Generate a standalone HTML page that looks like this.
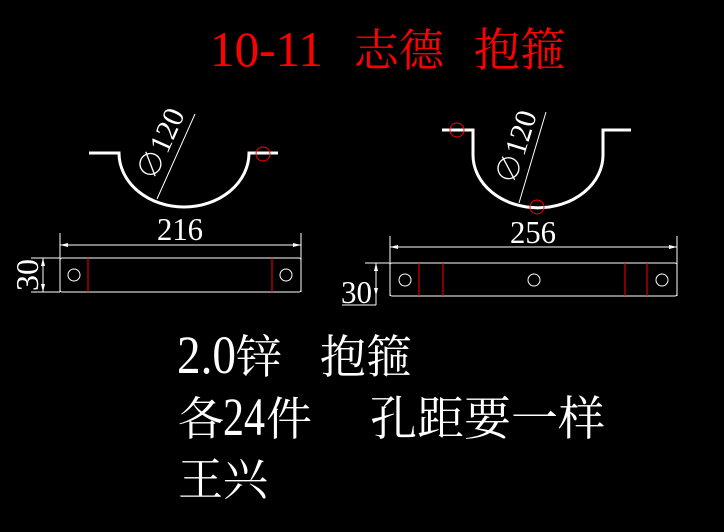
<!DOCTYPE html>
<html><head><meta charset="utf-8"><style>
html,body{margin:0;padding:0;background:#000;width:724px;height:532px;overflow:hidden}
svg{display:block}
.t{font-family:"Liberation Serif","Noto Serif CJK SC",serif}
</style></head><body>
<svg width="724" height="532" viewBox="0 0 724 532" xmlns="http://www.w3.org/2000/svg">
<rect width="724" height="532" fill="#000"/>
<!-- title -->
<text class="t" x="210" y="66" font-size="50" fill="#ff0000" textLength="113" lengthAdjust="spacingAndGlyphs">10-11</text>
<text class="t" x="354" y="66" font-size="45" fill="#ff0000">志德</text>
<text class="t" x="474" y="66" font-size="46" fill="#ff0000">抱箍</text>

<g fill="none" stroke="#fff">
<path d="M89 153 H119 A65 54 0 0 0 249 153 H278" stroke-width="3"/>
<line x1="157" y1="199" x2="195" y2="114" stroke-width="1"/>
<line x1="60" y1="245" x2="301" y2="245"/>
<line x1="60" y1="233" x2="60" y2="292"/>
<line x1="301" y1="233" x2="301" y2="292"/>
<rect x="60" y="258" width="241" height="34" rx="2"/>
<circle cx="74" cy="275" r="6"/>
<circle cx="286" cy="275" r="6"/>
<line x1="43" y1="258" x2="43" y2="292"/>
<line x1="31" y1="258" x2="60" y2="258"/>
<line x1="31" y1="292" x2="60" y2="292"/>
<path d="M442 130 H473 V155 A64 52 0 0 0 603 155 V130 H631" stroke-width="3"/>
<line x1="519" y1="203" x2="546" y2="112" stroke-width="1"/>
<line x1="390" y1="247" x2="677" y2="247"/>
<line x1="390" y1="236" x2="390" y2="296"/>
<line x1="677" y1="236" x2="677" y2="296"/>
<rect x="390" y="263" width="287" height="33" rx="2"/>
<circle cx="405" cy="280" r="6"/>
<circle cx="534" cy="280" r="6"/>
<circle cx="662" cy="280" r="6"/>
<line x1="376" y1="263" x2="376" y2="305"/>
<line x1="365" y1="263" x2="390" y2="263"/>
<line x1="342" y1="305" x2="376" y2="305"/>
</g>
<g stroke="#ff0000" fill="none">
<circle cx="263" cy="154" r="7"/>
<circle cx="457" cy="130" r="7"/>
<circle cx="537" cy="207" r="7"/>
<line x1="88" y1="258" x2="88" y2="292"/>
<line x1="272" y1="258" x2="272" y2="292"/>
<line x1="419" y1="263" x2="419" y2="296"/>
<line x1="443" y1="263" x2="443" y2="296"/>
<line x1="625" y1="263" x2="625" y2="296"/>
<line x1="647" y1="263" x2="647" y2="296"/>
</g>
<g fill="#fff">
<polygon points="60,245 68,243 68,247"/><polygon points="301,245 293,243 293,247"/>
<polygon points="390,247 398,245 398,249"/><polygon points="677,247 669,245 669,249"/>
<polygon points="43,258 41,266 45,266"/><polygon points="43,292 41,284 45,284"/>
<polygon points="376,263 374,271 378,271"/><polygon points="376,296 374,288 378,288"/>
</g>
<text class="t" x="157" y="240" font-size="32" fill="#fff" textLength="46" lengthAdjust="spacingAndGlyphs">216</text>
<text class="t" x="510" y="243" font-size="32" fill="#fff" textLength="46" lengthAdjust="spacingAndGlyphs">256</text>
<text class="t" x="0" y="0" font-size="32" fill="#fff" text-anchor="middle" transform="translate(38,275) rotate(-90)">30</text>
<text class="t" x="341" y="303" font-size="32" fill="#fff" textLength="31" lengthAdjust="spacingAndGlyphs">30</text>
<text class="t" x="0" y="0" font-size="30" fill="#fff" text-anchor="middle" transform="translate(170,148) rotate(-66)">∅120</text>
<text class="t" x="0" y="0" font-size="30" fill="#fff" text-anchor="middle" transform="translate(526,150) rotate(-73)">∅120</text>
<!-- notes -->
<text class="t" x="177" y="373" font-size="54" fill="#fff" textLength="59" lengthAdjust="spacingAndGlyphs">2.0</text>
<text class="t" x="236" y="373" font-size="46" fill="#fff">锌</text>
<text class="t" x="320" y="373" font-size="46" fill="#fff">抱箍</text>
<text class="t" x="178" y="435" font-size="46" fill="#fff">各</text>
<text class="t" x="223" y="435" font-size="54" fill="#fff" textLength="42" lengthAdjust="spacingAndGlyphs">24</text>
<text class="t" x="266" y="435" font-size="46" fill="#fff">件</text>
<text class="t" x="370" y="435" font-size="47" fill="#fff">孔距要一样</text>
<text class="t" x="178" y="495" font-size="45" fill="#fff">王兴</text>
</svg>
</body></html>
